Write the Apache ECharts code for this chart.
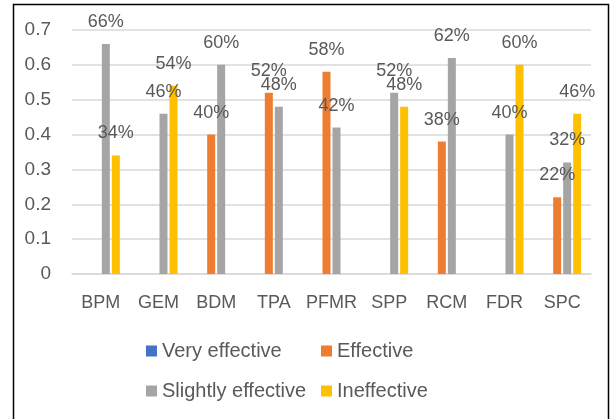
<!DOCTYPE html>
<html>
<head>
<meta charset="utf-8">
<script src="https://cdn.jsdelivr.net/npm/echarts@6/dist/echarts.min.js"></script>
<style>
html,body{margin:0;padding:0;background:#fff;}
#chart{width:613px;height:419px;}
</style>
</head>
<body>
<div id="chart"></div>
<script>
var categories = ['BPM','GEM','BDM','TPA','PFMR','SPP','RCM','FDR','SPC'];
var veryEffective = [null,null,null,null,null,null,null,null,null];
var effective = [null,null,0.40,0.52,0.58,null,0.38,null,0.22];
var slightlyEffective = [0.66,0.46,0.60,0.48,0.42,0.52,0.62,0.40,0.32];
var ineffective = [0.34,0.54,null,null,null,0.48,null,0.60,0.46];
var seriesNames = ['Very effective','Effective','Slightly effective','Ineffective'];
var seriesColors = ['#4472C4','#ED7D31','#A5A5A5','#FFC000'];
var yTicks = {min:0, max:0.7, interval:0.1};

var FONT = '"Liberation Sans", Arial, sans-serif';
var TXT = '#595959';
var chart = echarts.init(document.getElementById('chart'));
var dataSets = [veryEffective, effective, slightlyEffective, ineffective];

var series = dataSets.map(function(d,i){
  return {
    name: seriesNames[i],
    type: 'bar',
    data: d,
    barWidth: 8,
    barGap: '25%',
    itemStyle: {color: seriesColors[i]},
    label: {
      show: true,
      position: 'top',
      distance: 13,
      color: TXT,
      fontFamily: FONT,
      fontSize: 18,
      formatter: function(p){ return p.value == null ? '' : Math.round(p.value*100) + '%'; }
    }
  };
});

var legendPos = [
  {left:146, top:341},
  {left:321, top:341},
  {left:146, top:381},
  {left:321, top:381}
];
var legends = seriesNames.map(function(n,i){
  return {
    data: [n],
    left: legendPos[i].left,
    top: legendPos[i].top,
    icon: 'rect',
    itemWidth: 11,
    itemHeight: 11,
    itemGap: 0,
    padding: 0,
    textStyle: {color: TXT, fontFamily: FONT, fontSize: 20}
  };
});

chart.setOption({
  animation: false,
  backgroundColor: '#fff',
  textStyle: {fontFamily: FONT},
  grid: {left: 72, right: 22, top: 30, bottom: 145, containLabel: false},
  legend: legends,
  xAxis: {
    type: 'category',
    data: categories,
    axisLine: {show: true, lineStyle: {color: '#d9d9d9', width: 1.5}},
    axisTick: {show: false},
    axisLabel: {color: TXT, fontFamily: FONT, fontSize: 18, margin: 20, interval: 0}
  },
  yAxis: {
    type: 'value',
    min: yTicks.min,
    max: yTicks.max,
    interval: yTicks.interval,
    axisLine: {show: false},
    axisTick: {show: false},
    splitLine: {lineStyle: {color: '#d9d9d9', width: 1.5}},
    axisLabel: {color: TXT, fontFamily: FONT, fontSize: 19, margin: 21,
      formatter: function(v){ return v === 0 ? '0' : v.toFixed(1); }}
  },
  series: series,
  graphic: [{
    type: 'rect',
    shape: {x: 13.5, y: 4.5, width: 595, height: 430},
    style: {fill: 'none', stroke: '#000', lineWidth: 1.5},
    silent: true
  }]
});
</script>
</body>
</html>
